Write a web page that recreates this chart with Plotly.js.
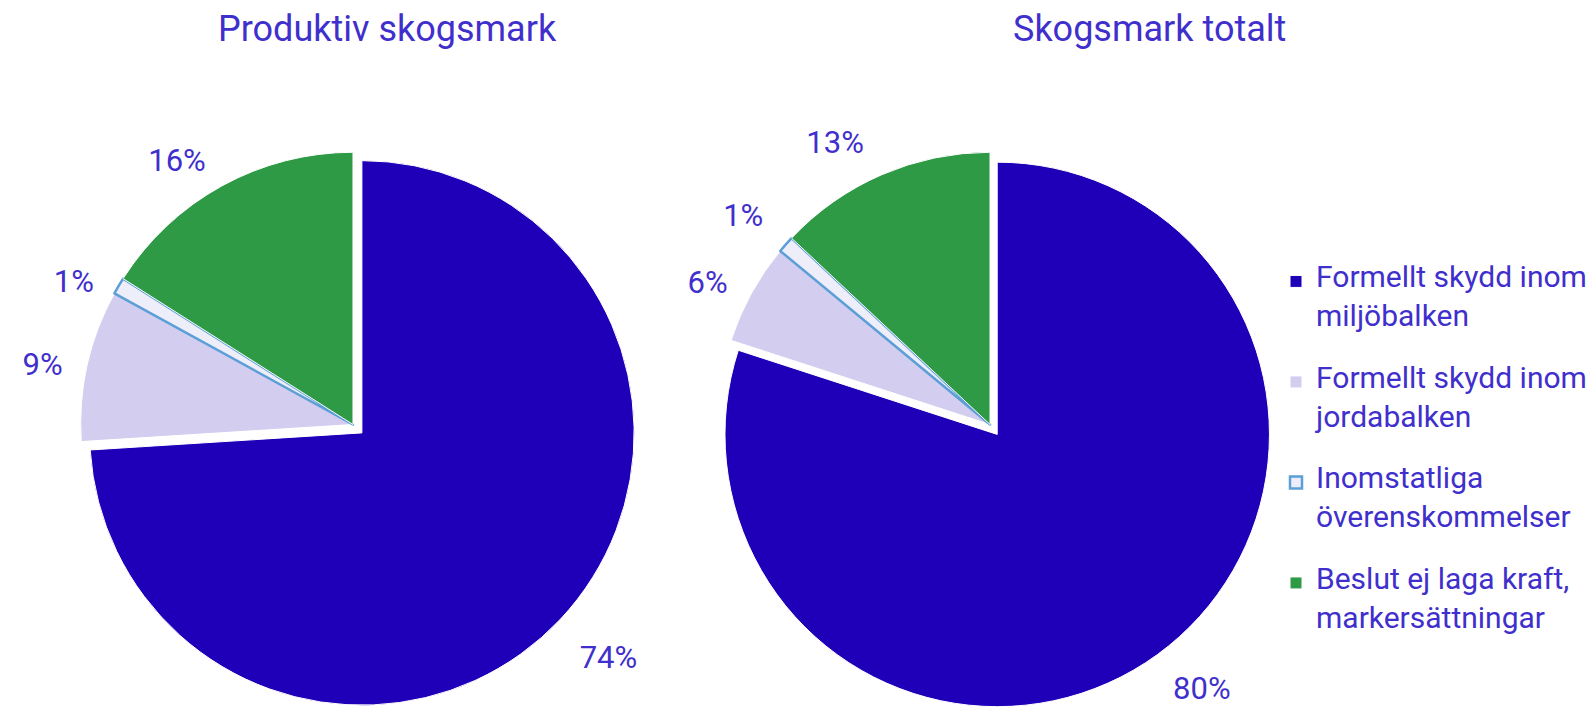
<!DOCTYPE html>
<html>
<head>
<meta charset="utf-8">
<script src="https://cdn.plot.ly/plotly-3.0.1.min.js"></script>
<style>html,body{margin:0;padding:0;background:#fff;overflow:hidden}</style>
</head>
<body>
<div id="chart" style="width:1595px;height:709px"></div>
<script>
const categories = [
  ["Formellt skydd inom", "miljöbalken"],
  ["Formellt skydd inom", "jordabalken"],
  ["Inomstatliga", "överenskommelser"],
  ["Beslut ej laga kraft,", "markersättningar"]
];
const produktivValues = [74, 9, 1, 16];
const totaltValues = [80, 6, 1, 13];
const chartTitles = ["Produktiv skogsmark", "Skogsmark totalt"];

const sliceColors = ["#1f00b8", "#d3cdf0", "#eeeefb", "#2f9a45"];
const lineColors = ["#ffffff", "#ffffff", "#5b9fd6", "#ffffff"];
const lineWidths = [1, 1, 2.5, 1];
const textBlue = "#3f2fcc";
const font = "Roboto, 'Open Sans', sans-serif";

// legend labels: big text lines with small spacer lines to reproduce the original spacing
const big = s => '<span style="font-size:30px">' + s + '</span>';
const legendLabels = categories.map(c => big(c[0]) + '<br> <br>' + big(c[1]) + '<br> <br> ');

// padding (non-breaking spaces / spacer lines) keeps outside labels a bit further from the pie;
// the spacer line height follows the per-slice base font size
const pad = n => "\u00a0".repeat(n);
const pct = '<span style="font-size:31px">%{percent}</span>';
const side = n => pad(n) + pct + pad(n);
const below = n => side(n) + "<br>\u00a0";
const above = "\u00a0<br>" + pct;
const leftTemplates = [above, side(2), side(2), below(1)];
const leftBaseSizes = [31, 31, 31, 14];
const rightTemplates = [above, below(4), below(1), below(1)];
const rightBaseSizes = [25, 12, 24, 17];

function pieTrace(values, domainX, showLegend, templates, baseSizes) {
  return {
    type: "pie",
    labels: legendLabels,
    values: values,
    sort: false,
    direction: "clockwise",
    rotation: 0,
    pull: [0.045, 0, 0, 0],
    marker: { colors: sliceColors, line: { color: lineColors, width: lineWidths } },
    texttemplate: templates,
    textposition: "outside",
    outsidetextfont: { family: font, size: baseSizes, color: textBlue },
    domain: { x: domainX, y: [0, 1] },
    showlegend: showLegend,
    hoverinfo: "percent"
  };
}

const data = [
  pieTrace(produktivValues, [0.0413, 0.4013], true, leftTemplates, leftBaseSizes),
  pieTrace(totaltValues, [0.4407, 0.8007], false, rightTemplates, rightBaseSizes)
];

const layout = {
  width: 1595,
  height: 709,
  margin: { l: 0, r: 0, t: 140, b: 0 },
  paper_bgcolor: "#ffffff",
  font: { family: font, color: textBlue },
  showlegend: true,
  legend: {
    x: 0.800, xanchor: "left",
    y: 0.78, yanchor: "top",
    font: { family: font, size: 15, color: textBlue },
    traceorder: "normal",
    valign: "top",
    bgcolor: "rgba(0,0,0,0)"
  },
  annotations: [
    { text: chartTitles[0], xref: "paper", yref: "paper", x: 387 / 1595, y: 1, yshift: 111,
      xanchor: "center", yanchor: "middle", showarrow: false,
      font: { family: font, size: 36, color: textBlue } },
    { text: chartTitles[1], xref: "paper", yref: "paper", x: 1149 / 1595, y: 1, yshift: 111,
      xanchor: "center", yanchor: "middle", showarrow: false,
      font: { family: font, size: 36, color: textBlue } }
  ]
};

Plotly.newPlot("chart", data, layout, { displayModeBar: false, staticPlot: true });
</script>
</body>
</html>
